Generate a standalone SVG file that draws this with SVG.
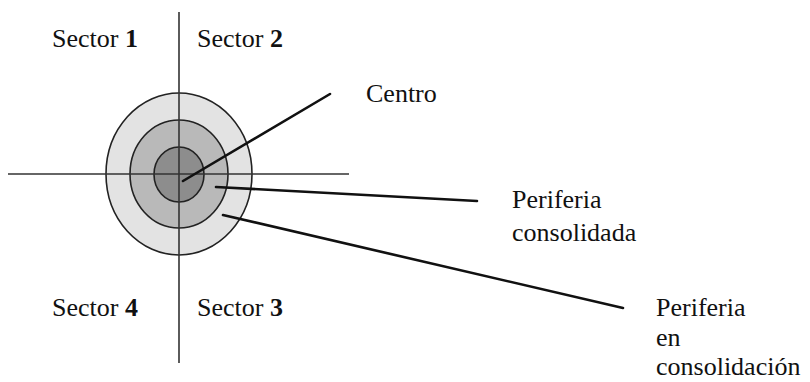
<svg xmlns="http://www.w3.org/2000/svg" width="810" height="382" viewBox="0 0 810 382">
<style>
text{font-family:"Liberation Serif","Times New Roman",serif;font-size:26px;fill:#111}
.b{font-weight:bold}
.ring{stroke:#222;stroke-width:1.6}
.axis{stroke:#333;stroke-width:1.6;fill:none}
.lead{stroke:#111;stroke-width:2.6;fill:none;stroke-linecap:round}
</style>
<rect width="810" height="382" fill="#fff"/>
<g id="rings">
<ellipse class="ring" cx="179" cy="174" rx="73" ry="81" fill="#e3e3e3"/>
<ellipse class="ring" cx="179" cy="174" rx="49" ry="54" fill="#b9b9b9"/>
<ellipse class="ring" cx="179" cy="174.5" rx="25" ry="27.5" fill="#8d8d8d"/>
</g>
<g id="axes">
<line class="axis" x1="179" y1="12" x2="179" y2="363"/>
<line class="axis" x1="8" y1="174" x2="349" y2="174"/>
</g>
<g id="connectors">
<line class="lead" x1="183" y1="181" x2="330" y2="94"/>
<line class="lead" x1="216" y1="187" x2="477" y2="201"/>
<line class="lead" x1="223" y1="215" x2="623" y2="308"/>
</g>
<g id="sector1"><text x="52" y="47">Sector <tspan class="b">1</tspan></text></g>
<g id="sector2"><text x="197" y="47">Sector <tspan class="b">2</tspan></text></g>
<g id="sector4"><text x="52" y="316">Sector <tspan class="b">4</tspan></text></g>
<g id="sector3"><text x="197" y="316">Sector <tspan class="b">3</tspan></text></g>
<g id="centro"><text x="366" y="102">Centro</text></g>
<g id="periferia-consolidada"><text x="512" y="208">Periferia</text><text x="512" y="241">consolidada</text></g>
<g id="periferia-en-consolidacion"><text x="656" y="316">Periferia</text><text x="656" y="346">en</text><text x="656" y="375">consolidación</text></g>
</svg>
